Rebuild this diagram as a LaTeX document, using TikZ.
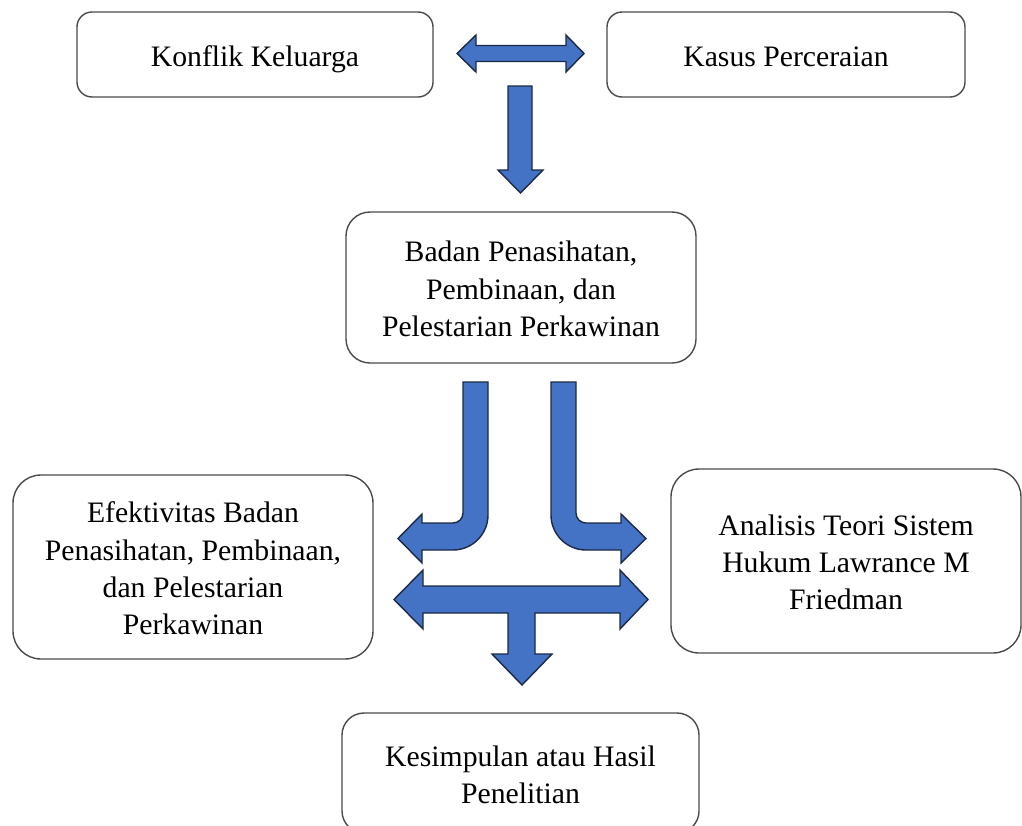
\documentclass[tikz,border=0pt]{standalone}
\usepackage{fontspec}
\setmainfont{Liberation Serif}
\definecolor{arrowfill}{HTML}{4472C4}
\definecolor{arrowline}{HTML}{1B2A45}
\definecolor{boxline}{HTML}{4A4A4A}
\newcommand{\ls}{\rule[-7pt]{0pt}{37.3pt}}
\begin{document}
\begin{tikzpicture}[x=1pt,y=-1pt,
  box/.style={draw=boxline,line width=1.4pt,fill=white,rectangle,rounded corners=#1,
    align=center,inner sep=0pt,font=\fontsize{29.7}{37.3}\selectfont,text=black},
  blockarrow/.style={fill=arrowfill,draw=arrowline,line width=1.4pt,line join=miter}]
\useasboundingbox (0,0) rectangle (1022,825);
\clip (0,0) rectangle (1022,825);
\fill[white] (0,0) rectangle (1022,825);

% boxes
\node[box=15pt,minimum width=356pt,minimum height=85pt] (konflik) at (255,54.5) {\ls Konflik Keluarga};
\node[box=15pt,minimum width=358pt,minimum height=85pt] (kasus) at (786,54.5) {\ls Kasus Perceraian};
\node[box=24pt,minimum width=350pt,minimum height=151pt] (badan) at (521,287.5)
  {\ls Badan Penasihatan,\\ \ls Pembinaan, dan\\ \ls Pelestarian Perkawinan};
\node[box=28pt,minimum width=360pt,minimum height=184pt] (efektif) at (193,567)
  {\ls Efektivitas Badan\\ \ls Penasihatan, Pembinaan,\\ \ls dan Pelestarian\\ \ls Perkawinan};
\node[box=28pt,minimum width=350pt,minimum height=184pt] (analisis) at (846,561)
  {\ls Analisis Teori Sistem\\ \ls Hukum Lawrance M\\ \ls Friedman};
\node[box=22pt,minimum width=357pt,minimum height=120pt] (hasil) at (520.5,773)
  {\ls Kesimpulan atau Hasil\\ \ls Penelitian};

% double arrow between top boxes
\draw[blockarrow] (457,53.5) -- (476,35) -- (476,45.5) -- (566,45.5) -- (566,35) -- (584,53.5)
  -- (566,72) -- (566,61.5) -- (476,61.5) -- (476,72) -- cycle;

% down arrow to Badan
\draw[blockarrow] (508,86) -- (532,86) -- (532,170) -- (543,170) -- (520.5,193) -- (498,170) -- (508,170) -- cycle;

% left bent arrow
\draw[blockarrow] (463,382) -- (488,382) -- (488,515)
  .. controls (488,534.3) and (472.3,550) .. (453,550)
  -- (422,550) -- (422,563) -- (398,538.5) -- (422,514) -- (422,523) -- (453,523)
  .. controls (458.5,523) and (463,518.5) .. (463,513) -- cycle;

% right bent arrow
\draw[blockarrow] (576,382) -- (551,382) -- (551,515)
  .. controls (551,534.3) and (566.7,550) .. (586,550)
  -- (621,550) -- (621,563) -- (646,538.5) -- (621,514) -- (621,523) -- (586,523)
  .. controls (580.5,523) and (576,518.5) .. (576,513) -- cycle;

% T arrow
\draw[blockarrow] (394,599.5) -- (423,570) -- (423,586) -- (620,586) -- (620,570) -- (648,599.5)
  -- (620,629) -- (620,613) -- (535,613) -- (535,654) -- (552,654) -- (522,685) -- (492,654)
  -- (508,654) -- (508,613) -- (423,613) -- (423,629) -- cycle;
\end{tikzpicture}
\end{document}
